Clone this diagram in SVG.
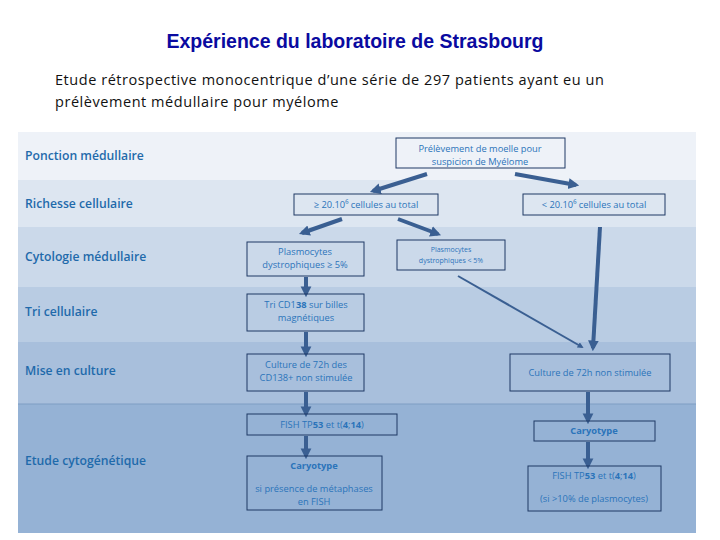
<svg xmlns="http://www.w3.org/2000/svg" width="720" height="540" viewBox="0 0 720 540">
<style>
.title{font-family:"Liberation Sans",Arial,sans-serif;font-weight:bold;font-size:19.5px;fill:#0A0AA0}
.sub{font-family:"Open Sans","DejaVu Sans",sans-serif;font-size:14.5px;letter-spacing:0.55px;fill:#111}
.lbl{font-family:"Open Sans","DejaVu Sans",sans-serif;font-size:12.2px;font-weight:600;fill:#1F6AAB}
.bt{font-family:"Open Sans","DejaVu Sans",sans-serif;font-size:9.3px;fill:#2B74BA;text-anchor:middle}
.bs{font-family:"Open Sans","DejaVu Sans",sans-serif;font-size:7px;fill:#2B74BA;text-anchor:middle}
.box{fill:none;stroke:#1F3864;stroke-width:1}
.arr{fill:none;stroke:#3A5F92;stroke-width:4;marker-end:url(#ah)}
.thin{fill:none;stroke:#3A5F92;stroke-width:2;marker-end:url(#ahs)}
</style>
<defs>
<marker id="ah" viewBox="0 0 10 10" refX="7" refY="5" markerWidth="2.7" markerHeight="3" orient="auto">
<path d="M0,0 L10,5 L0,10 z" fill="#3A5F92"/>
</marker>
<marker id="ahs" viewBox="0 0 10 10" refX="7" refY="5" markerWidth="3" markerHeight="3" orient="auto">
<path d="M0,0 L10,5 L0,10 z" fill="#3A5F92"/>
</marker>
</defs>
<rect width="720" height="540" fill="#FFFFFF"/>
<text class="title" x="355" y="48" text-anchor="middle">Expérience du laboratoire de Strasbourg</text>
<text class="sub" x="55" y="85">Etude rétrospective monocentrique d’une série de 297 patients ayant eu un</text>
<text class="sub" x="55" y="107">prélèvement médullaire pour myélome</text>
<g id="bands">
<rect x="18" y="132" width="678" height="48" fill="#EEF2F8"/>
<rect x="18" y="180" width="678" height="47" fill="#DDE6F1"/>
<rect x="18" y="227" width="678" height="60" fill="#CBD9EA"/>
<rect x="18" y="287" width="678" height="55" fill="#B9CCE3"/>
<rect x="18" y="342" width="678" height="62" fill="#A8BFDC"/>
<rect x="18" y="404" width="678" height="129" fill="#95B2D5"/>
<line x1="18" y1="404" x2="696" y2="404" stroke="#7F9DC4" stroke-width="1"/>
</g>
<g id="labels">
<text class="lbl" x="25" y="160">Ponction médullaire</text>
<text class="lbl" x="25" y="208">Richesse cellulaire</text>
<text class="lbl" x="25" y="261">Cytologie médullaire</text>
<text class="lbl" x="25" y="316">Tri cellulaire</text>
<text class="lbl" x="25" y="375">Mise en culture</text>
<text class="lbl" x="25" y="465">Etude cytogénétique</text>
</g>
<g id="connectors">
<path class="arr" d="M427,174 L373,191"/>
<path class="arr" d="M515,174 L576,185"/>
<path class="arr" d="M342,219 L302,233"/>
<path class="arr" d="M398,219 L438,234"/>
<path class="arr" d="M306,277 L306,294"/>
<path class="arr" d="M306,332 L306,354"/>
<path class="arr" d="M306,392 L306,414"/>
<path class="arr" d="M306,436 L306,456"/>
<path class="arr" d="M600,227 L593,348"/>
<path class="thin" d="M458,276 L582,347"/>
<path class="arr" d="M588,392 L588,421"/>
<path class="arr" d="M588,442 L588,466"/>
</g>
<g id="n-prelevement">
<rect class="box" x="396" y="138" width="169" height="30"/>
<text class="bt" x="480" y="152">Prélèvement de moelle pour</text>
<text class="bt" x="480" y="165">suspicion de Myélome</text>
</g>
<g id="n-riche">
<rect class="box" x="294" y="194" width="144" height="21"/>
<text class="bt" x="366" y="208">≥ 20.10⁶ cellules au total</text>
</g>
<g id="n-pauvre">
<rect class="box" x="523" y="194" width="142" height="21"/>
<text class="bt" x="594" y="208">&lt; 20.10⁶ cellules au total</text>
</g>
<g id="n-plasmo-sup">
<rect class="box" x="247" y="242" width="117" height="34"/>
<text class="bt" x="305" y="255">Plasmocytes</text>
<text class="bt" x="305" y="268">dystrophiques ≥ 5%</text>
</g>
<g id="n-plasmo-inf">
<rect class="box" x="397" y="240" width="108" height="30"/>
<text class="bs" x="451" y="252">Plasmocytes</text>
<text class="bs" x="451" y="263">dystrophiques &lt; 5%</text>
</g>
<g id="n-tri">
<rect class="box" x="247" y="294" width="117" height="37"/>
<text class="bt" x="306" y="308">Tri CD1<tspan font-weight="bold">38</tspan> sur billes</text>
<text class="bt" x="306" y="321">magnétiques</text>
</g>
<g id="n-culture-cd138">
<rect class="box" x="247" y="354" width="117" height="37"/>
<text class="bt" x="306" y="368">Culture de 72h des</text>
<text class="bt" x="306" y="381">CD138+ non stimulée</text>
</g>
<g id="n-culture-ns">
<rect class="box" x="510" y="354" width="160" height="37"/>
<text class="bt" x="590" y="376">Culture de 72h non stimulée</text>
</g>
<g id="n-fish-left">
<rect class="box" x="247" y="414" width="150" height="21"/>
<text class="bt" x="322" y="428">FISH TP<tspan font-weight="bold">53</tspan> et t(<tspan font-weight="bold">4</tspan>;<tspan font-weight="bold">14</tspan>)</text>
</g>
<g id="n-caryo-left">
<rect class="box" x="247" y="456" width="135" height="54"/>
<text class="bt" x="314" y="469" font-weight="bold">Caryotype</text>
<text class="bt" x="314" y="492">si présence de métaphases</text>
<text class="bt" x="314" y="505">en FISH</text>
</g>
<g id="n-caryo-right">
<rect class="box" x="534" y="421" width="121" height="20"/>
<text class="bt" x="594" y="434" font-weight="bold">Caryotype</text>
</g>
<g id="n-fish-right">
<rect class="box" x="528" y="466" width="133" height="45"/>
<text class="bt" x="594" y="479">FISH TP<tspan font-weight="bold">53</tspan> et t(<tspan font-weight="bold">4</tspan>;<tspan font-weight="bold">14</tspan>)</text>
<text class="bt" x="594" y="502">(si &gt;10% de plasmocytes)</text>
</g>
</svg>
